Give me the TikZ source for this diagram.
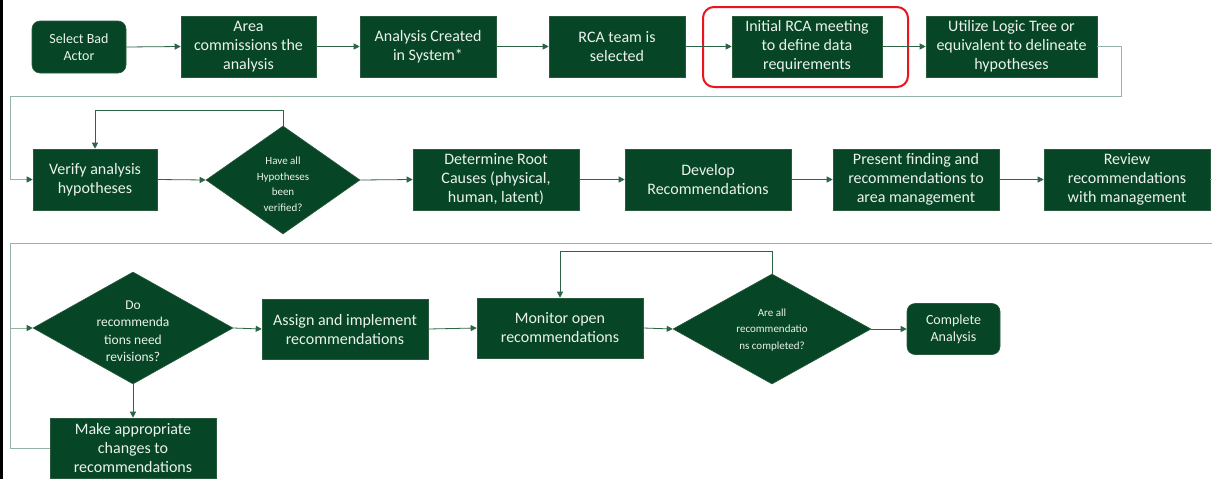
\documentclass[tikz,border=0pt]{standalone}
\usepackage{fontspec}
\setmainfont{Carlito}
\usetikzlibrary{arrows.meta,shapes.geometric}
\definecolor{boxgreen}{RGB}{6,70,38}
\definecolor{boxedge}{RGB}{40,90,60}
\definecolor{txt}{RGB}{236,242,236}
\definecolor{conn}{RGB}{45,100,70}
\definecolor{wrapc}{RGB}{150,180,165}
\definecolor{hlred}{RGB}{235,20,30}
\begin{document}
\begin{tikzpicture}[x=1pt,y=-1pt,
  base/.style={fill=boxgreen,draw=boxedge,line width=0.6pt,text=txt,align=center,inner sep=2pt},
  pbox/.style={base,rectangle,minimum height=61pt,font=\fontsize{16}{19}\selectfont,execute at begin node={\rule{0pt}{15pt}}},
  rbox/.style={base,rectangle,rounded corners=8pt,font=\fontsize{14}{17}\selectfont},
  dia/.style={base,diamond,inner sep=0pt},
  dtext/.style={text=txt,align=center,inner sep=0pt},
  arr/.style={draw=conn,line width=0.8pt,-{Triangle[length=6pt,width=6pt]}},
  wrapline/.style={draw=wrapc,line width=1pt},
  wraparr/.style={wrapline,-{Triangle[length=6pt,width=6pt,color=conn]}}
]
\useasboundingbox (0,0) rectangle (1212,479);
\fill[white] (0,0) rectangle (1212,479);
\draw[black,line width=3pt] (1.5,0) -- (1.5,479);

% row 1
\node[rbox,minimum width=94pt,minimum height=52pt] (n1) at (79,47) {Select Bad\\Actor};
\node[pbox,minimum width=135pt] (n2) at (248.5,46.5) {Area\\commissions the\\analysis};
\node[pbox,minimum width=136pt] (n3) at (428,46.5) {Analysis Created\\in System*};
\node[pbox,minimum width=136pt] (n4) at (617,46.5) {RCA team is\\selected};
\node[pbox,minimum width=150pt] (n5) at (807,46.5) {Initial RCA meeting\\to define data\\requirements};
\node[pbox,minimum width=171pt] (n6) at (1011.5,46.5) {Utilize Logic Tree or\\equivalent to delineate\\hypotheses};
\node[draw=hlred,line width=2pt,rounded corners=11pt,minimum width=205pt,minimum height=80pt,inner sep=0pt] (hl) at (805.5,47) {};

% row 2
\node[pbox,minimum width=124pt] (n7) at (95,179.5) {Verify analysis\\hypotheses};
\node[dia,minimum width=154pt,minimum height=108pt] (d1) at (283,180) {};
\node[dtext,font=\fontsize{11}{15.5}\selectfont] (d1t) at (283,184) {Have all\\Hypotheses\\been\\verified?};
\node[pbox,minimum width=166pt] (n8) at (496,179.5) {Determine Root\\Causes (physical,\\human, latent)};
\node[pbox,minimum width=166pt] (n9) at (708,179.5) {Develop\\Recommendations};
\node[pbox,minimum width=166pt] (n10) at (916,179.5) {Present finding and\\recommendations to\\area management};
\node[pbox,minimum width=166pt] (n11) at (1127,179.5) {Review\\recommendations\\with management};

% row 3
\node[dia,minimum width=200pt,minimum height=112pt] (d2) at (133,328) {};
\node[dtext,font=\fontsize{13.5}{17.5}\selectfont] (d2t) at (133,331) {Do\\recommenda\\tions need\\revisions?};
\node[pbox,minimum width=166pt,minimum height=60pt] (n12) at (345,329) {Assign and implement\\recommendations};
\node[pbox,minimum width=166pt,minimum height=60pt] (n13) at (560,328) {Monitor open\\recommendations};
\node[dia,minimum width=198pt,minimum height=110pt] (d3) at (772,329) {};
\node[dtext,font=\fontsize{11}{16.5}\selectfont] (d3t) at (772,330) {Are all\\recommendatio\\ns completed?};
\node[rbox,minimum width=93pt,minimum height=51pt] (n14) at (953.5,329) {Complete\\Analysis};
\node[pbox,minimum width=166pt,minimum height=60pt] (n15) at (133,448) {Make appropriate\\changes to\\recommendations};

% coordinates for wraps and loops
\coordinate (w1a) at (1121,96);
\coordinate (w1b) at (10,96);
\coordinate (l1) at (95,110);
\coordinate (w2a) at (1222,243);
\coordinate (w2b) at (10,243);
\coordinate (l2) at (560,251);

% row 1 connectors
\draw[arr] (n1.east) -- (n2.west);
\draw[arr] (n2.east) -- (n3.west);
\draw[arr] (n3.east) -- (n4.west);
\draw[arr] (n4.east) -- (n5.west);
\draw[arr] (n5.east) -- (n6.west);
\draw[wraparr] (n6.east) -| (w1a) -- (w1b) |- (n7.west);

% row 2 connectors
\draw[arr] (n7.east) -- (d1.west);
\draw[arr] (d1.north) |- (l1) -- (n7.north);
\draw[arr] (d1.east) -- (n8.west);
\draw[arr] (n8.east) -- (n9.west);
\draw[arr] (n9.east) -- (n10.west);
\draw[arr] (n10.east) -- (n11.west);
\draw[wraparr] (n11.east) -| (w2a) -- (w2b) |- (d2.west);

% row 3 connectors
\draw[arr] (d2.east) -- (n12.west);
\draw[arr] (d2.south) -- (n15.north);
\draw[wrapline] (n15.west) -| (w2b);
\draw[arr] (n12.east) -- (n13.west);
\draw[arr] (n13.east) -- (d3.west);
\draw[arr] (d3.north) |- (l2) -- (n13.north);
\draw[arr] (d3.east) -- (n14.west);
\end{tikzpicture}
\end{document}
